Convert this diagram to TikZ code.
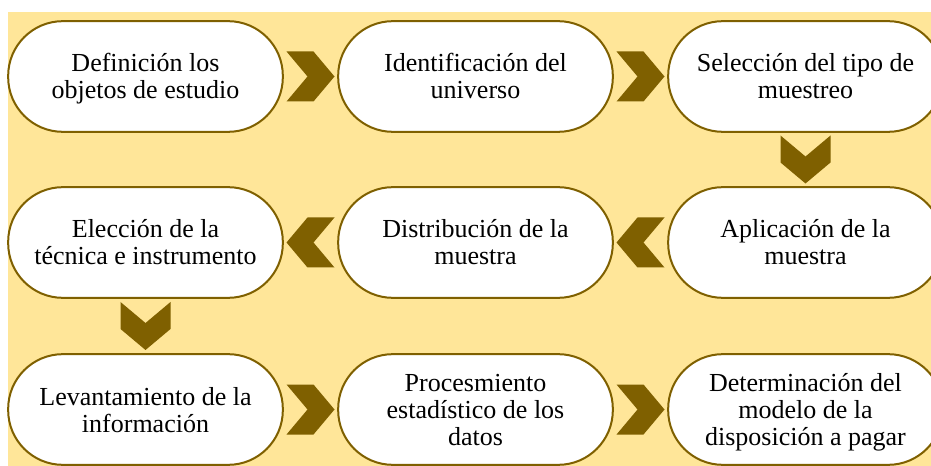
\documentclass[tikz,border=0pt]{standalone}
\usepackage{fontspec}
\setmainfont{Liberation Serif}
\usepackage{tikz}
\usetikzlibrary{calc}
\definecolor{oro}{HTML}{7F6000}
\definecolor{fondo}{HTML}{FFE699}
\tikzset{
  chevron/.pic={
    \fill[oro] (-24,-25) -- (3,-25) -- (24,0) -- (3,25) -- (-24,25) -- (-3,0) -- cycle;
  },
  paso/.style={draw=oro, line width=1.5pt, fill=white,
    rounded corners=41pt, minimum width=206pt, minimum height=83pt,
    align=center, inner sep=0pt, text height=38.25pt, text depth=4.5pt,
    font=\fontsize{19.5}{20.25}\selectfont},
  tres/.style={text height=57.75pt},
}

\begin{document}
\begin{tikzpicture}[x=0.75pt,y=-0.75pt]
\useasboundingbox (0,0) rectangle (931,466);
\clip (0,0) rectangle (931,466);
\fill[fondo] (7.5,11.7) rectangle (931,466);
\node[paso] (def) at (145.5,76.5) {Definición los\\objetos de estudio};
\node[paso] (ide) at (475.5,76.5) {Identificación del\\universo};
\node[paso] (sel) at (805.5,76.5) {Selección del tipo de\\muestreo};
\node[paso] (apl) at (805.5,242.5) {Aplicación de la\\muestra};
\node[paso] (dis) at (475.5,242.5) {Distribución de la\\muestra};
\node[paso] (ele) at (145.5,242.5) {Elección de la\\técnica e instrumento};
\node[paso] (lev) at (145.5,409.5) {Levantamiento de la\\información};
\node[paso,tres] (pro) at (475.5,409.5) {Procesmiento\\estadístico de los\\datos};
\node[paso,tres] (det) at (805.5,409.5) {Determinación del\\modelo de la\\disposición a pagar};
\path
  pic at ($(def.east)!0.5!(ide.west)$) {chevron}
  pic at ($(ide.east)!0.5!(sel.west)$) {chevron}
  pic[rotate=-90] at ($(sel.south)!0.5!(apl.north)$) {chevron}
  pic[rotate=180] at ($(apl.west)!0.5!(dis.east)$) {chevron}
  pic[rotate=180] at ($(dis.west)!0.5!(ele.east)$) {chevron}
  pic[rotate=-90] at ($(ele.south)!0.5!(lev.north)$) {chevron}
  pic at ($(lev.east)!0.5!(pro.west)$) {chevron}
  pic at ($(pro.east)!0.5!(det.west)$) {chevron};
\end{tikzpicture}
\end{document}
